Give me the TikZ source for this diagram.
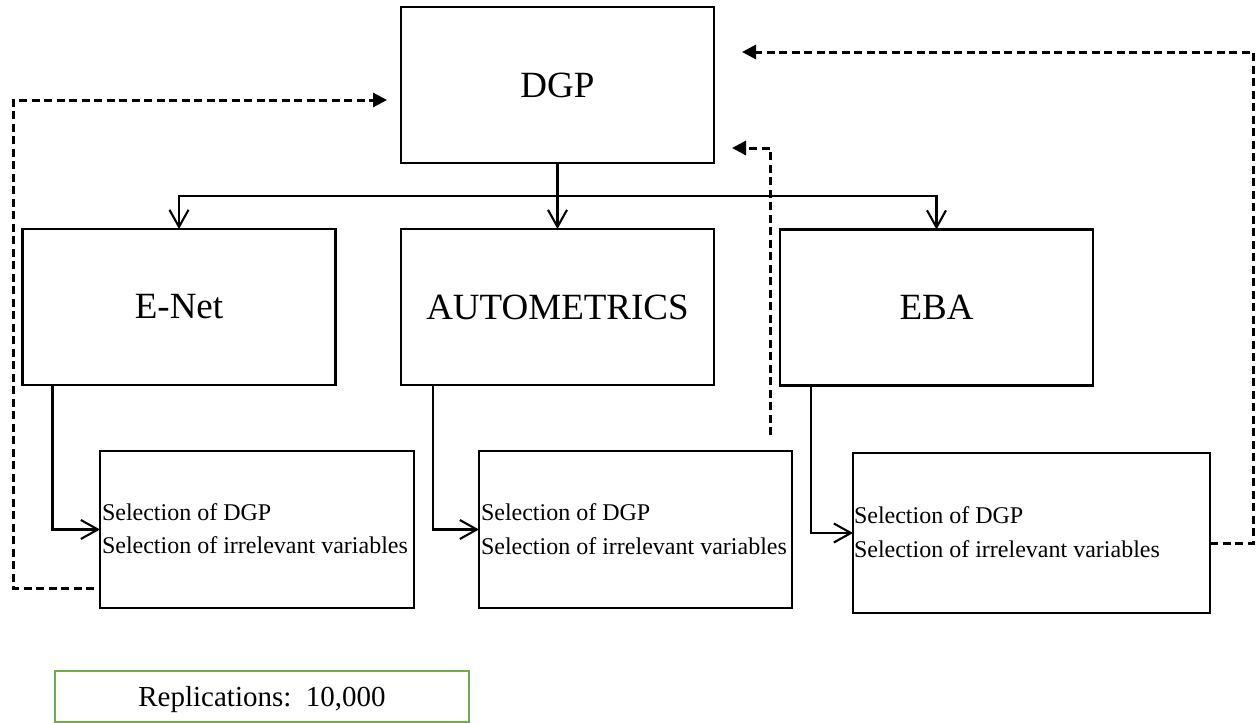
\documentclass[tikz,border=0pt]{standalone}
\usepackage{fontspec}
\setmainfont{Liberation Serif}
\usetikzlibrary{arrows.meta}
\definecolor{repgreen}{RGB}{112,173,71}
\begin{document}
\begin{tikzpicture}[x=1pt,y=-1pt,
  box/.style={draw,line width=2.1pt,rectangle,inner sep=0pt,outer sep=0pt},
  bigbox/.style={box,minimum width=313pt,minimum height=156pt,font=\fontsize{37}{44}\selectfont},
  selbox/.style={box},
  seltext/.style={inner sep=0pt,outer sep=0pt,font=\fontsize{24}{33}\selectfont},
  repbox/.style={draw=repgreen,line width=2.1pt,rectangle,inner sep=0pt,outer sep=0pt,
                 minimum width=414pt,minimum height=51pt,text depth=0pt,font=\fontsize{29}{34}\selectfont},
  conn/.style={line width=2.1pt,-{Straight Barb[length=17pt,width=19pt,line width=2.1pt]}},
  fb/.style={line width=3pt,dash pattern=on 8pt off 4.5pt,-{Triangle[length=14pt,width=14pt]}}
]
\useasboundingbox (0,0) rectangle (1259,723);

% main boxes
\node[bigbox] (dgp)   at (557.5,85)  {DGP};
\node[bigbox] (enet)  at (179,307)   {E-Net};
\node[bigbox] (autom) at (557.5,307) {AUTOMETRICS};
\node[bigbox] (eba)   at (936.5,307.5) {EBA};

% selection boxes
\node[selbox,minimum width=314pt,minimum height=157pt] (sel1) at (257,529.5) {};
\node[selbox,minimum width=313pt,minimum height=157pt] (sel2) at (635.5,529.5) {};
\node[selbox,minimum width=357pt,minimum height=160pt] (sel3) at (1031.5,533) {};

\node[seltext,anchor=base west] (t1) at ([xshift=2pt,yshift=-69pt]sel1.north west)
  {\vtop{\baselineskip=33pt\hbox{Selection of DGP}\hbox{Selection of irrelevant variables}}};
\node[seltext,anchor=base west] (t2) at ([xshift=2pt,yshift=-69pt]sel2.north west)
  {\vtop{\baselineskip=34pt\hbox{Selection of DGP}\hbox{Selection of irrelevant variables}}};
\node[seltext,anchor=base west] (t3) at ([xshift=1pt,yshift=-70pt]sel3.north west)
  {\vtop{\baselineskip=34pt\hbox{Selection of DGP}\hbox{Selection of irrelevant variables}}};

% replications
\node[repbox] (rep) at (262,696.5) {Replications:\hspace{0.5em}10,000};

% solid connectors
\coordinate (bus) at ([yshift=-33pt]dgp.south);
\draw[conn] (dgp) -- (autom);
\draw[conn] (bus) -| (enet.north);
\draw[conn] (bus) -| (eba.north);
\draw[conn] ([xshift=30pt]enet.south west) |- (sel1.west);
\draw[conn] ([xshift=32pt]autom.south west) |- (sel2.west);
\draw[conn] ([xshift=31pt]eba.south west) |- (sel3.west);

% dashed feedback
\coordinate (f1s) at ([xshift=-6pt,yshift=20pt]sel1.south west);
\coordinate (f1e) at ([xshift=-14pt,yshift=-15pt]dgp.west);
\draw[fb] (f1s) -- ++(-81,0) |- (f1e);

\coordinate (f2s) at ([xshift=-22pt,yshift=16pt]sel2.north east);
\coordinate (f2e) at ([xshift=18pt,yshift=15pt]dgp.south east);
\draw[fb] (f2s) |- (f2e);

\coordinate (f3s) at ([yshift=-10pt]sel3.east);
\coordinate (f3e) at ([xshift=28pt,yshift=-45pt]dgp.north east);
\draw[fb] (f3s) -- ++(43,0) |- (f3e);
\end{tikzpicture}
\end{document}
